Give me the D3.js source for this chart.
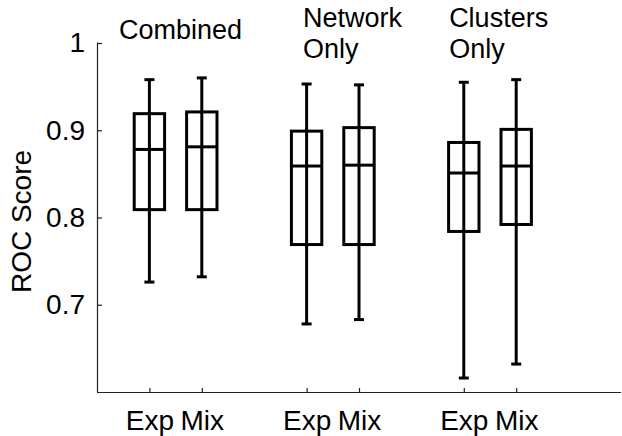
<!DOCTYPE html>
<html>
<head>
<meta charset="utf-8">
<script src="https://cdn.jsdelivr.net/npm/d3@7"></script>
<style>
  html, body { margin: 0; padding: 0; background: #fff; }
  svg { display: block; font-family: "Liberation Sans", Arial, Helvetica, sans-serif; }
</style>
</head>
<body>
<svg id="chart" width="622" height="436"></svg>
<script>
// ---- data ----
const groups = ["Combined", "Network Only", "Clusters Only"];
const titleLines = [["Combined"], ["Network", "Only"], ["Clusters", "Only"]];
const series = ["Exp", "Mix"];
const xTickLabels = ["Exp", "Mix", "Exp", "Mix", "Exp", "Mix"];
const xPositions = [1, 2, 4, 5, 7, 8];
const yTicks = [0.7, 0.8, 0.9, 1];

const whiskerHighExp = [0.958, 0.953, 0.955];
const whiskerHighMix = [0.960, 0.952, 0.958];
const q3Exp = [0.919, 0.899, 0.886];
const q3Mix = [0.921, 0.903, 0.901];
const medianExp = [0.878, 0.859, 0.851];
const medianMix = [0.881, 0.860, 0.859];
const q1Exp = [0.809, 0.769, 0.784];
const q1Mix = [0.809, 0.769, 0.792];
const whiskerLowExp = [0.726, 0.678, 0.616];
const whiskerLowMix = [0.732, 0.683, 0.632];

// ---- layout ----
const svg = d3.select("#chart");
const x = d3.scaleLinear().domain([0, 10]).range([97, 621]);
const y = d3.scaleLinear().domain([0.6, 1]).range([392, 43]);
const tickFont = 28;
const titleFont = 27;
const boxW = 0.58;   // data units
const capW = 10;     // px
const titleXs = [0.42, 3.93, 6.72];
const titleBaselines = [[39], [27, 58], [27, 58]];

// build boxes
const boxes = [];
groups.forEach((g, i) => {
  boxes.push({ pos: xPositions[i * 2], hi: whiskerHighExp[i], q3: q3Exp[i], med: medianExp[i], q1: q1Exp[i], lo: whiskerLowExp[i] });
  boxes.push({ pos: xPositions[i * 2 + 1], hi: whiskerHighMix[i], q3: q3Mix[i], med: medianMix[i], q1: q1Mix[i], lo: whiskerLowMix[i] });
});

// axes
const yAxis = d3.axisLeft(y).tickValues(yTicks).tickSize(-5).tickPadding(12)
  .tickFormat(d => d === 1 ? "1" : d3.format(".1f")(d));
const gy = svg.append("g").attr("transform", `translate(${x(0)},0)`).call(yAxis);
gy.select(".domain").attr("d", `M0,${y(1)}H0.5V${y(0.6)}`);

const xAxis = d3.axisBottom(x).tickValues(xPositions).tickSize(-4).tickPadding(18)
  .tickFormat((d, i) => xTickLabels[i]);
const gx = svg.append("g").attr("transform", `translate(0,${y(0.6)})`).call(xAxis);
gx.select(".domain").attr("d", `M${x(0)},0.5H${x(10)}`);

[gx, gy].forEach(g => {
  g.select(".domain").attr("stroke", "#222").attr("stroke-width", 1.2).attr("fill", "none");
  g.selectAll(".tick line").attr("stroke", "#222").attr("stroke-width", 1.2);
  g.selectAll(".tick text").attr("font-size", tickFont).attr("fill", "#000")
    .attr("font-family", "Liberation Sans, Arial, sans-serif");
});
gx.selectAll(".tick text").attr("dy", "0.71em");

// y label
svg.append("text")
  .attr("transform", `translate(31,${(y(1) + y(0.6)) / 2 + 4}) rotate(-90)`)
  .attr("text-anchor", "middle")
  .attr("font-size", tickFont)
  .text("ROC Score");

// boxes
const gb = svg.append("g").attr("stroke", "#000").attr("stroke-width", 3).attr("fill", "none");
boxes.forEach(b => {
  const cx = x(b.pos);
  const hw = (x(boxW) - x(0)) / 2;
  gb.append("line").attr("x1", cx).attr("x2", cx).attr("y1", y(b.hi)).attr("y2", y(b.lo));
  gb.append("line").attr("x1", cx - capW / 2).attr("x2", cx + capW / 2).attr("y1", y(b.hi)).attr("y2", y(b.hi));
  gb.append("line").attr("x1", cx - capW / 2).attr("x2", cx + capW / 2).attr("y1", y(b.lo)).attr("y2", y(b.lo));
  gb.append("rect").attr("x", cx - hw).attr("y", y(b.q3)).attr("width", 2 * hw).attr("height", y(b.q1) - y(b.q3));
  gb.append("line").attr("x1", cx - hw).attr("x2", cx + hw).attr("y1", y(b.med)).attr("y2", y(b.med));
});

// group titles
titleLines.forEach((lines, i) => {
  lines.forEach((ln, j) => {
    svg.append("text")
      .attr("x", x(titleXs[i]))
      .attr("y", titleBaselines[i][j])
      .attr("font-size", titleFont)
      .attr("fill", "#000")
      .text(ln);
  });
});
</script>
</body>
</html>
